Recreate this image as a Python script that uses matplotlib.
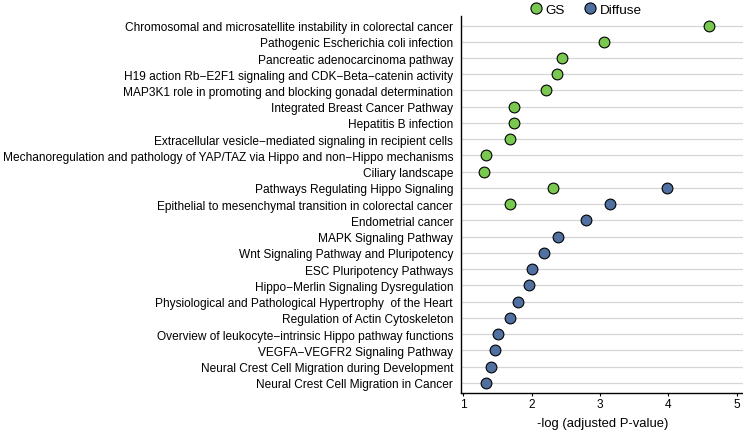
import matplotlib.pyplot as plt
from matplotlib.lines import Line2D

plt.rcParams['font.family'] = ['Liberation Sans', 'DejaVu Sans']

# pathway names, top to bottom
pathways = [
    "Chromosomal and microsatellite instability in colorectal cancer",
    "Pathogenic Escherichia coli infection",
    "Pancreatic adenocarcinoma pathway",
    "H19 action Rb\u2212E2F1 signaling and CDK\u2212Beta\u2212catenin activity",
    "MAP3K1 role in promoting and blocking gonadal determination",
    "Integrated Breast Cancer Pathway",
    "Hepatitis B infection",
    "Extracellular vesicle\u2212mediated signaling in recipient cells",
    "Mechanoregulation and pathology of YAP/TAZ via Hippo and non\u2212Hippo mechanisms",
    "Ciliary landscape",
    "Pathways Regulating Hippo Signaling",
    "Epithelial to mesenchymal transition in colorectal cancer",
    "Endometrial cancer",
    "MAPK Signaling Pathway",
    "Wnt Signaling Pathway and Pluripotency",
    "ESC Pluripotency Pathways",
    "Hippo\u2212Merlin Signaling Dysregulation",
    "Physiological and Pathological Hypertrophy  of the Heart",
    "Regulation of Actin Cytoskeleton",
    "Overview of leukocyte\u2212intrinsic Hippo pathway functions",
    "VEGFA\u2212VEGFR2 Signaling Pathway",
    "Neural Crest Cell Migration during Development",
    "Neural Crest Cell Migration in Cancer",
]

# GS hits (index into pathways, -log adj p)
gs_idx = [0, 1, 2, 3, 4, 5, 6, 7, 8, 9, 10, 11]
gs_val = [4.60, 3.06, 2.45, 2.37, 2.21, 1.75, 1.75, 1.69, 1.33, 1.30, 2.31, 1.69]

# Diffuse hits
diff_idx = [10, 11, 12, 13, 14, 15, 16, 17, 18, 19, 20, 21, 22]
diff_val = [3.98, 3.14, 2.80, 2.39, 2.18, 2.01, 1.97, 1.80, 1.69, 1.51, 1.47, 1.41, 1.34]

GS_COLOR = '#79c850'
DIFF_COLOR = '#4f70a0'

fig = plt.figure(figsize=(7.43, 4.31), dpi=100)
ax = fig.add_axes([0.621, 0.087, 0.379, 0.874])

# horizontal grid lines
for i in range(len(pathways)):
    ax.axhline(i, color='#d6d6d6', lw=0.9, zorder=0)

ax.scatter(gs_val, gs_idx, s=60, color=GS_COLOR, edgecolor='black',
           linewidth=0.8, zorder=3)
ax.scatter(diff_val, diff_idx, s=60, color=DIFF_COLOR, edgecolor='black',
           linewidth=0.8, zorder=3)

ax.set_yticks(range(len(pathways)))
ax.set_yticklabels(pathways, fontsize=8.6)
ax.set_ylim(len(pathways) - 0.4, -0.6)
ax.set_xlim(0.975, 5.09)
ax.set_xticks([1, 2, 3, 4, 5])
ax.tick_params(axis='x', labelsize=8.6, length=2, pad=2)
ax.tick_params(axis='y', length=0, pad=6)
ax.set_xlabel('-log (adjusted P-value)', fontsize=9.4, labelpad=5)

for side in ['top', 'right']:
    ax.spines[side].set_visible(False)
for side in ['left', 'bottom']:
    ax.spines[side].set_linewidth(1.0)

# legend on top
handles = [
    Line2D([], [], marker='o', ls='', markersize=8, markerfacecolor=GS_COLOR,
           markeredgecolor='black', markeredgewidth=0.8, label='GS'),
    Line2D([], [], marker='o', ls='', markersize=8, markerfacecolor=DIFF_COLOR,
           markeredgecolor='black', markeredgewidth=0.8, label='Diffuse'),
]
fig.legend(handles=handles, loc='upper center', bbox_to_anchor=(0.787, 1.018),
           ncol=2, frameon=False, fontsize=9.7, handletextpad=0.1,
           columnspacing=1.3, handlelength=1.2)

fig.savefig('out.png', dpi=100)
